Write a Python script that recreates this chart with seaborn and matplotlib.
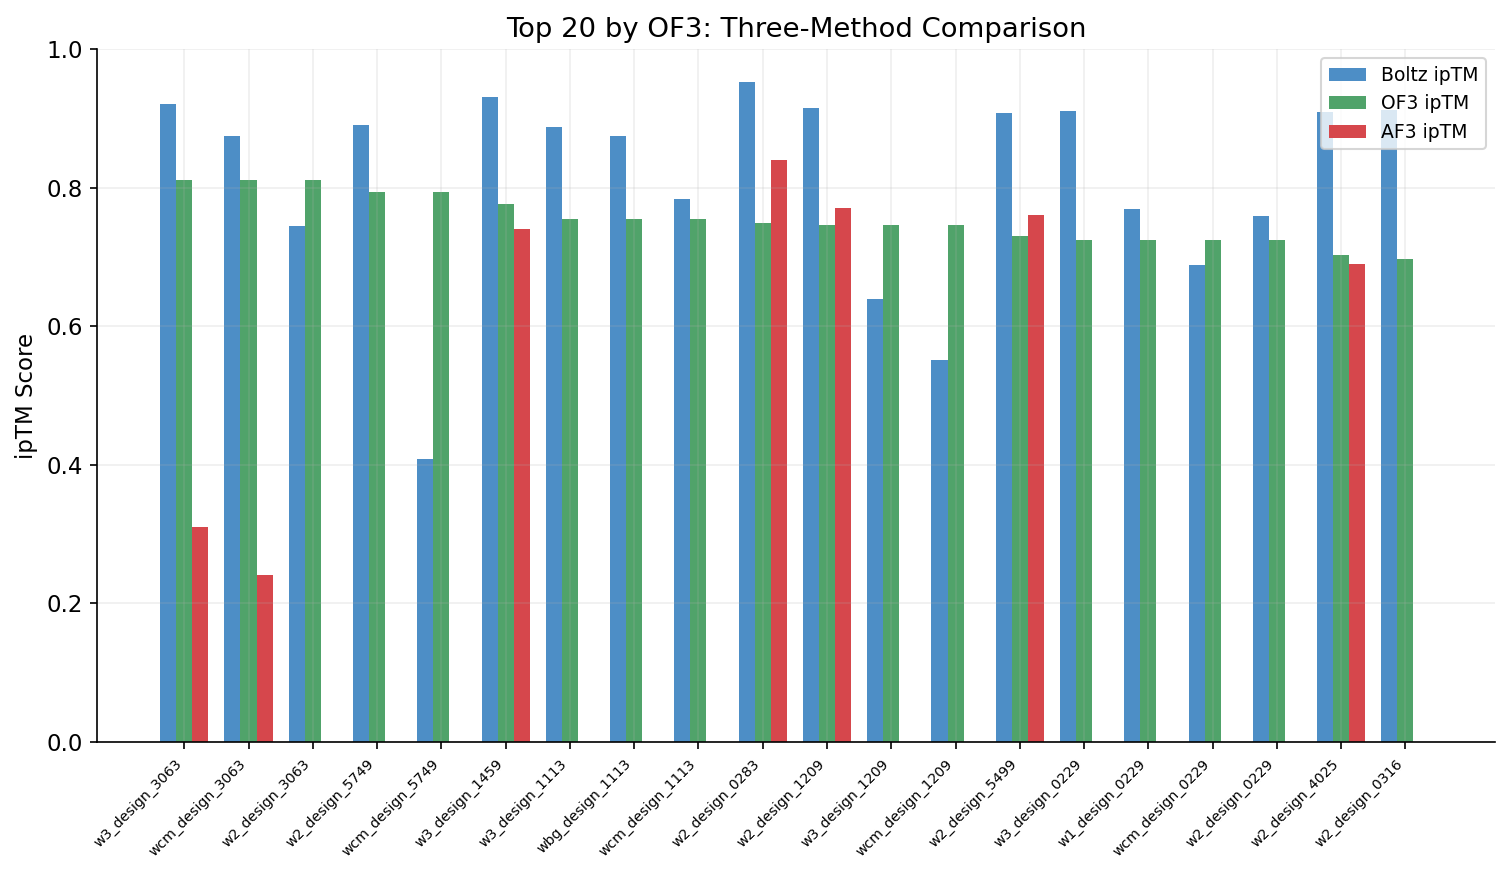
import numpy as np
import pandas as pd
import matplotlib
matplotlib.use("Agg")
import matplotlib.pyplot as plt
import seaborn as sns

designs = ["w3_design_3063", "wcm_design_3063", "w2_design_3063", "w2_design_5749",
           "wcm_design_5749", "w3_design_1459", "w3_design_1113", "wbg_design_1113",
           "wcm_design_1113", "w2_design_0283", "w2_design_1209", "w3_design_1209",
           "wcm_design_1209", "w2_design_5499", "w3_design_0229", "w1_design_0229",
           "wcm_design_0229", "w2_design_0229", "w2_design_4025", "w2_design_0316"]
boltz = [0.921, 0.874, 0.745, 0.890, 0.408, 0.931, 0.887, 0.874, 0.784, 0.952,
         0.915, 0.639, 0.551, 0.908, 0.911, 0.769, 0.688, 0.759, 0.909, 0.912]
of3 = [0.811, 0.811, 0.811, 0.794, 0.794, 0.776, 0.755, 0.755, 0.755, 0.749,
       0.746, 0.746, 0.746, 0.730, 0.724, 0.724, 0.724, 0.724, 0.703, 0.697]
af3 = [0.310, 0.241, np.nan, np.nan, np.nan, 0.740, np.nan, np.nan, np.nan, 0.840,
       0.771, np.nan, np.nan, 0.760, np.nan, np.nan, np.nan, np.nan, 0.690, np.nan]
methods = ["Boltz ipTM", "OF3 ipTM", "AF3 ipTM"]
colors = ["#4d8ec6", "#50a36a", "#d6474c"]

df = pd.DataFrame({"design": designs, methods[0]: boltz, methods[1]: of3, methods[2]: af3})
long = df.melt(id_vars="design", var_name="method", value_name="score").dropna()

fig, ax = plt.subplots(figsize=(10.05, 5.84), dpi=150)
sns.barplot(data=long, x="design", y="score", hue="method", order=designs,
            hue_order=methods, palette=colors, saturation=1, width=0.75,
            errorbar=None, ax=ax)
ax.set_ylim(0, 1.0)
ax.set_xlim(-1.354, 20.4)
ax.grid(True, alpha=0.2)
ax.set_xlabel("")
ax.set_ylabel("ipTM Score", fontsize=11)
ax.set_title("Top 20 by OF3: Three-Method Comparison", fontsize=13.2)
ax.tick_params(axis="y", labelsize=11)
plt.setp(ax.get_xticklabels(), rotation=45, ha="right", fontsize=6.8, rotation_mode="default")
ax.spines["top"].set_visible(False)
ax.spines["right"].set_visible(False)
ax.legend(loc="upper right", fontsize=9, title=None)
fig.subplots_adjust(left=0.0645, right=0.992, top=0.944, bottom=0.153)
fig.savefig("out.png", dpi=150)
